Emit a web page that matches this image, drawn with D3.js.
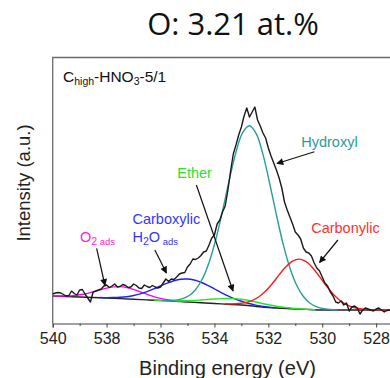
<!DOCTYPE html>
<html>
<head>
<meta charset="utf-8">
<script src="https://cdn.jsdelivr.net/npm/d3@7"></script>
<style>
  body { margin: 0; background: #fff; }
  svg { display: block; font-family: "Liberation Sans", Arial, sans-serif; }
</style>
</head>
<body>
<svg id="chart" width="390" height="378"></svg>
<script>
// ---- data (binding energy in eV, intensity a.u.) ----
var xTicks = [540, 538, 536, 534, 532, 530, 528];

// raw spectrum, 0.1 eV steps from 540.0 down to 527.5
var rawStart = 540.0, rawStep = 0.1;
var rawIntensity = [
  30, 31, 31.5, 31, 29.5, 28, 28.5, 33, 30.5, 29,
  34, 34.5, 30, 26, 22, 32, 33, 34, 35, 38,
  39, 36.5, 38, 40, 37, 37.5, 39.5, 38.5, 36.5, 37,
  40, 38.5, 36, 35.5, 39, 37.5, 36.5, 38.5, 37, 36,
  37, 41, 45, 42.5, 45, 44.5, 47, 50, 51, 51.5,
  57, 60, 65, 64.5, 66, 68.5, 72, 73, 79, 86,
  89, 100, 104, 112, 118, 134, 153, 170, 179, 189,
  197, 208, 216, 207, 212, 217, 204, 198, 191, 186,
  176, 168, 161, 154, 146, 136, 122, 114, 107, 100,
  92, 89, 85, 76, 72, 71, 68, 61, 56, 53,
  47, 41, 38, 32, 28, 22, 21, 23, 19, 21,
  13, 17, 18, 16, 10, 14, 16, 15, 14, 13,
  15, 16, 14, 12, 13.5, 14
];

// Shirley background
var bgEnergy = [540, 539.5, 539, 538.5, 538, 537.5, 537, 536.5, 536, 535.5, 535, 534.5, 534,
                533.5, 533, 532.5, 532, 531.5, 531, 530.5, 530, 529.5, 529, 528.5, 528, 527.5, 527];
var bgIntensity = [28, 27.5, 27, 26.5, 26, 25.35, 24.7, 24.1, 23.5, 22.75, 22, 21.25, 20.5,
                   19.75, 19, 17.75, 16.5, 15.75, 15, 14.5, 14, 14, 14, 14, 14, 14, 14];

// fitted components (background included)
var o2Energy = [540, 539.75, 539.5, 539.25, 539, 538.75, 538.5, 538.25, 538, 537.75, 537.5,
                537.25, 537, 536.75, 536.5, 536.25, 536, 535.75, 535.5, 535.25, 535];
var o2Intensity = [28.1, 28.0, 28.1, 28.4, 29.2, 30.4, 32.1, 34.1, 35.9, 37.1, 37.35,
                   36.4, 34.6, 32.2, 29.7, 27.45, 25.65, 24.25, 23.3, 22.65, 22.1];

var carboxEnergy = [538.25, 538, 537.75, 537.5, 537.25, 537, 536.75, 536.5, 536.25, 536, 535.75,
                    535.5, 535.25, 535, 534.75, 534.5, 534.25, 534, 533.75, 533.5, 533.25, 533,
                    532.75, 532.5, 532.25, 532, 531.75];
var carboxIntensity = [26.45, 26.4, 26.45, 26.7, 27.3, 28.45, 30.1, 32.4, 35.1, 38.1, 40.9,
                       43.25, 44.75, 45, 43.95, 41.75, 38.7, 35.1, 31.4, 28.05, 25.1, 22.75,
                       20.7, 19.1, 17.85, 16.9, 16.3];

var etherEnergy = [536.25, 536, 535.75, 535.5, 535.25, 535, 534.75, 534.5, 534.25, 534, 533.75,
                   533.5, 533.25, 533, 532.75, 532.5, 532.25, 532, 531.75, 531.5, 531.25, 531,
                   530.75, 530.5, 530.25];
var etherIntensity = [23.87, 23.64, 23.36, 23.23, 23.21, 23.3, 23.55, 24.0, 24.5, 25.0, 25.4,
                      25.55, 25.4, 24.8, 23.7, 22.25, 20.7, 19.25, 18.05, 17.05, 16.2, 15.5,
                      15.0, 14.65, 14.3];

var hydroxylEnergy = [535.95, 535.7, 535.45, 535.2, 534.95, 534.7, 534.45, 534.2, 533.95, 533.7,
                      533.45, 533.2, 532.95, 532.7, 532.45, 532.2, 531.95, 531.7, 531.45, 531.2,
                      530.95, 530.7, 530.45, 530.2, 529.95, 529.7, 529.45];
var hydroxylIntensity = [23.6, 23.5, 23.9, 25.2, 28.25, 34.3, 44.95, 61.5, 84.5, 113.05,
                         143.8, 171.9, 191.6, 198.25, 190.3, 169.6, 140.5, 109.05, 79.8, 56.0,
                         38.75, 27.5, 20.8, 17.1, 15.2, 14.5, 14.2];

var carbonylEnergy = [533.6, 533.35, 533.1, 532.85, 532.6, 532.35, 532.1, 531.85, 531.6, 531.35,
                      531.1, 530.85, 530.6, 530.35, 530.1, 529.85, 529.6, 529.35, 529.1, 528.85,
                      528.6, 528.35, 528.1, 527.85, 527.6, 527.35];
var carbonylIntensity = [20.1, 20.1, 20.45, 21.4, 23.4, 27.2, 32.9, 40.5, 49.1, 57.2,
                         62.95, 64.85, 62.4, 56.05, 47.3, 38.2, 30.1, 23.8, 19.4, 16.75,
                         15.3, 14.55, 14.2, 14.1, 14.0, 14.0];

var components = [
  { name: "o2",       color: "#ff00ff", energy: o2Energy,       intensity: o2Intensity },
  { name: "carboxyl", color: "#1f1fff", energy: carboxEnergy,   intensity: carboxIntensity },
  { name: "ether",    color: "#22e822", energy: etherEnergy,    intensity: etherIntensity },
  { name: "hydroxyl", color: "#2a9b9b", energy: hydroxylEnergy, intensity: hydroxylIntensity },
  { name: "carbonyl", color: "#ff1a1a", energy: carbonylEnergy, intensity: carbonylIntensity }
];

// ---- layout ----
var svg = d3.select("#chart");
var plotLeft = 52.7, plotRight = 393, plotTop = 57.5, plotBottom = 324;

var x = d3.scaleLinear().domain([540, 527.375]).range([plotLeft, plotRight]);
var y = d3.scaleLinear().domain([0, 266]).range([plotBottom, plotTop + 0.5]);

var defs = svg.append("defs");
defs.append("clipPath").attr("id", "plot")
   .append("rect").attr("x", plotLeft).attr("y", plotTop)
   .attr("width", plotRight - plotLeft).attr("height", plotBottom - plotTop);

defs.append("marker")
   .attr("id", "head").attr("viewBox", "0 0 10 10").attr("refX", 9).attr("refY", 5)
   .attr("markerWidth", 8).attr("markerHeight", 7).attr("markerUnits", "userSpaceOnUse")
   .attr("orient", "auto")
   .append("path").attr("d", "M0,0 L10,5 L0,10 Z").attr("fill", "#111");

// frame
svg.append("path")
   .attr("d", "M" + plotLeft + "," + (plotBottom - 0.5) + " V" + plotTop + " H" + plotRight)
   .attr("fill", "none").attr("stroke", "#6b6b6b").attr("stroke-width", 1.3);

// x axis
var xAxis = d3.axisBottom(x).tickValues(xTicks).tickFormat(d3.format("d"))
              .tickSize(4).tickPadding(5);
var gx = svg.append("g").attr("transform", "translate(0," + (plotBottom - 0.5) + ")").call(xAxis);
gx.attr("font-family", null);
gx.select(".domain").attr("stroke", "#444").attr("stroke-width", 1.2);
gx.selectAll(".tick line").attr("stroke", "#444");
gx.selectAll(".tick text").attr("font-size", 16).attr("fill", "#222");
var minor = d3.axisBottom(x).tickValues([539, 537, 535, 533, 531, 529]).tickSize(2.5).tickFormat("");
var gm = svg.append("g").attr("transform", "translate(0," + (plotBottom - 0.5) + ")").call(minor);
gm.select(".domain").remove();
gm.selectAll(".tick line").attr("stroke", "#444");

var plot = svg.append("g").attr("clip-path", "url(#plot)");

var smooth = d3.line().curve(d3.curveCatmullRom)
  .x(function(d) { return x(d[0]); }).y(function(d) { return y(d[1]); });
var straight = d3.line()
  .x(function(d) { return x(d[0]); }).y(function(d) { return y(d[1]); });

// background
plot.append("path")
    .datum(d3.zip(bgEnergy, bgIntensity))
    .attr("d", smooth).attr("fill", "none").attr("stroke", "#222").attr("stroke-width", 1.4);

// components
components.forEach(function(c) {
  plot.append("path")
      .datum(d3.zip(c.energy, c.intensity))
      .attr("d", smooth).attr("fill", "none").attr("stroke", c.color).attr("stroke-width", 1.4);
});

// raw data
var raw = rawIntensity.map(function(v, i) { return [rawStart - i * rawStep, v]; });
plot.append("path")
    .datum(raw)
    .attr("d", straight).attr("fill", "none").attr("stroke", "#1a1a1a").attr("stroke-width", 1.4)
    .attr("stroke-linejoin", "round");

// ---- annotations (positions in data units) ----
var arrows = [
  [538.37, 75.7, 538.06, 38.5],
  [536.21, 74, 535.78, 51],
  [534.67, 139, 533.31, 33],
  [530.29, 172.3, 531.68, 160.5],
  [529.42, 84, 530.1, 61.5]
];
svg.selectAll("line.arrow").data(arrows).enter().append("line")
   .attr("class", "arrow")
   .attr("x1", function(d) { return x(d[0]); }).attr("y1", function(d) { return y(d[1]); })
   .attr("x2", function(d) { return x(d[2]); }).attr("y2", function(d) { return y(d[3]); })
   .attr("stroke", "#111").attr("stroke-width", 1.2).attr("marker-end", "url(#head)");

function label(e, v, color, size) {
  return svg.append("text").attr("x", x(e)).attr("y", y(v))
            .attr("fill", color).attr("font-size", size);
}

label(530.78, 177.3, "#2a9d9d", 14.5).text("Hydroxyl");
label(530.41, 91.3, "#ff3030", 14.5).text("Carbonylic");
label(535.38, 146, "#33dd33", 14.5).text("Ether");
label(537.04, 99.7, "#3535ff", 14.5).text("Carboxylic");

var h2o = label(537.04, 82.3, "#3535ff", 14.5);
h2o.append("tspan").text("H");
h2o.append("tspan").attr("font-size", 10.5).attr("dy", 3.5).text("2");
h2o.append("tspan").attr("dy", -3.5).text("O");
h2o.append("tspan").attr("font-size", 9.5).attr("dy", 3).text(" ads");

var o2 = label(538.99, 82.3, "#ff22dd", 14.5);
o2.append("tspan").text("O");
o2.append("tspan").attr("font-size", 10.5).attr("dy", 3.5).text("2");
o2.append("tspan").attr("font-size", 9.5).text(" ads");

// sample name
var sample = svg.append("text").attr("x", 63).attr("y", 81.5).attr("font-size", 15.5).attr("fill", "#111");
sample.append("tspan").text("C");
sample.append("tspan").attr("font-size", 10.5).attr("dy", 3).text("high");
sample.append("tspan").attr("dy", -3).text("-HNO");
sample.append("tspan").attr("font-size", 10.5).attr("dy", 3).text("3");
sample.append("tspan").attr("dy", -3).text("-5/1");

// axis titles
svg.append("text").attr("x", 227.5).attr("y", 375).attr("text-anchor", "middle")
   .attr("font-size", 20).attr("fill", "#222").text("Binding energy (eV)");
svg.append("text").attr("transform", "translate(29.5,183) rotate(-90)")
   .attr("text-anchor", "middle").attr("font-size", 18.5).attr("fill", "#222")
   .text("Intensity (a.u.)");

// title
svg.append("text").attr("x", 233).attr("y", 35).attr("text-anchor", "middle")
   .attr("font-family", "'Open Sans', 'Noto Sans', sans-serif").attr("font-size", 31)
   .attr("fill", "#111").text("O: 3.21 at.%");
</script>
</body>
</html>
